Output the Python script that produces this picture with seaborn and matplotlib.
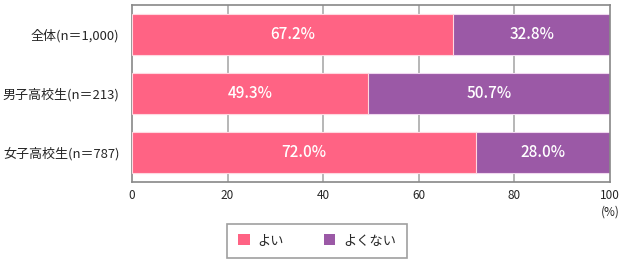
import matplotlib
matplotlib.use("Agg")
import matplotlib.pyplot as plt
import seaborn as sns
import pandas as pd
from matplotlib.patches import Patch

categories = ["全体(n＝1,000)", "男子高校生(n＝213)", "女子高校生(n＝787)"]
good = [67.2, 49.3, 72.0]
bad = [32.8, 50.7, 28.0]
series_names = ["よい", "よくない"]
xticks = [0, 20, 40, 60, 80, 100]

pink = "#FF6384"
purple = "#9B59A6"

sns.set_style("white")
plt.rcParams['font.family'] = ['Noto Sans CJK JP', 'DejaVu Sans']

df = pd.DataFrame({"cat": categories, "good": good, "bad": bad})
df["total"] = df["good"] + df["bad"]

fig = plt.figure(figsize=(6.27, 2.66), dpi=100)
ax = fig.add_axes([132/627, 1-182/266, (610-132)/627, (182-5)/266])

for x in xticks[1:-1]:
    ax.axvline(x, color="#aaaaaa", lw=1.2, zorder=0)

sns.barplot(data=df, y="cat", x="total", color=purple, orient="h", width=0.71,
            ax=ax, saturation=1, edgecolor="#f0d8ef", linewidth=0.8, zorder=2)
sns.barplot(data=df, y="cat", x="good", color=pink, orient="h", width=0.71,
            ax=ax, saturation=1, edgecolor="#ffd8e0", linewidth=0.8, zorder=3)

for i, (g, b) in enumerate(zip(good, bad)):
    ax.text(g/2, i, f"{g:.1f}%", color="white", ha="center", va="center",
            fontsize=11, fontweight="medium", zorder=5)
    ax.text(g + b/2, i, f"{b:.1f}%", color="white", ha="center", va="center",
            fontsize=11, fontweight="medium", zorder=5)

ax.set_xlim(0, 100)
ax.set_ylim(2.5, -0.5)
ax.set_xticks(xticks)
ax.set_xticklabels([str(x) for x in xticks], fontsize=8.5)
ax.tick_params(axis="y", labelsize=9.4, length=0, pad=9)
ax.tick_params(axis="x", length=0, pad=5)
ax.set_xlabel("")
ax.set_ylabel("")
for s in ax.spines.values():
    s.set_color("#888888")
    s.set_linewidth(1.2)
ax.text(1.0, -0.135, "(%)", transform=ax.transAxes, ha="center", va="top", fontsize=8.5)

handles = [Patch(facecolor=pink, edgecolor="none", label=series_names[0]),
           Patch(facecolor=purple, edgecolor="none", label=series_names[1])]
leg = fig.legend(handles=handles, loc="center", bbox_to_anchor=(317/627, 1-241/266),
                 ncol=2, frameon=True, fancybox=False, fontsize=9.5,
                 handlelength=0.9, handleheight=0.9, columnspacing=3.0,
                 borderpad=0.8, handletextpad=0.6)
leg.get_frame().set_edgecolor("#888888")
leg.get_frame().set_linewidth(1.2)
leg.get_frame().set_boxstyle("square", pad=0)
fig.savefig("out.png", dpi=100)
